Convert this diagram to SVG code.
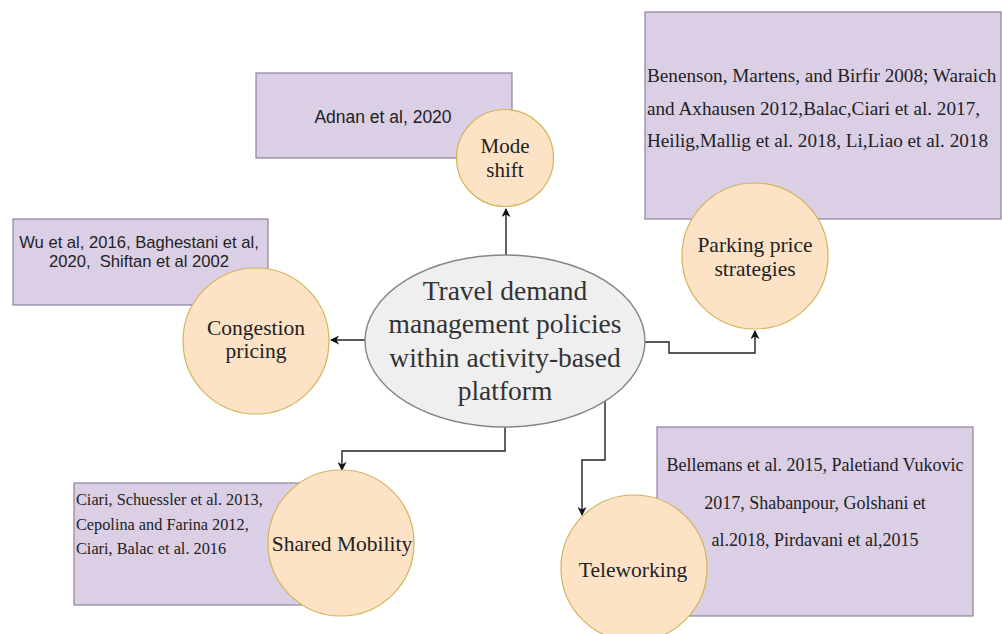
<svg xmlns="http://www.w3.org/2000/svg" width="1002" height="634" viewBox="0 0 1002 634">
<defs>
<style>
.box{fill:#dbcfe6;stroke:#8c829c;stroke-width:1.2}
.circ{fill:#fde2c6;stroke:#d2b45a;stroke-width:1.2}
.ell{fill:#efefef;stroke:#858585;stroke-width:1.4}
.sans{font-family:"Liberation Sans",Arial,sans-serif;fill:#222}
.serif{font-family:"Liberation Serif","Times New Roman",serif;fill:#222}
.conn{fill:none;stroke:#222;stroke-width:1.4}
</style>
<marker id="arr" viewBox="0 0 10 10" refX="9" refY="5" markerWidth="9" markerHeight="9" markerUnits="userSpaceOnUse" orient="auto">
<path d="M0,0 L10,5 L0,10 L3,5 Z" fill="#111"/>
</marker>
</defs>
<rect width="1002" height="634" fill="#fff"/>

<g id="connectors">
<path class="conn" d="M506,256 V209" marker-end="url(#arr)"/>
<path class="conn" d="M366,340 H331" marker-end="url(#arr)"/>
<path class="conn" d="M644,342 H669 V353 H755 V331" marker-end="url(#arr)"/>
<path class="conn" d="M505,427 V451 H342 V470" marker-end="url(#arr)"/>
<path class="conn" d="M605,401 V460 H582 V515" marker-end="url(#arr)"/>
</g>

<g id="center">
<ellipse class="ell" cx="505" cy="341" rx="140" ry="86"/>
<g class="serif" font-size="27.5" text-anchor="middle" style="fill:#333">
<text x="505" y="300">Travel demand</text>
<text x="505" y="333">management policies</text>
<text x="505" y="367">within activity-based</text>
<text x="505" y="400">platform</text>
</g>
</g>

<g id="mode-shift">
<rect class="box" x="256" y="73" width="256" height="85"/>
<text class="sans" x="383" y="123" font-size="17.5" text-anchor="middle">Adnan et al, 2020</text>
<circle class="circ" cx="505" cy="158" r="48.5"/>
<g class="serif" font-size="21" text-anchor="middle">
<text x="505" y="153">Mode</text>
<text x="505" y="177">shift</text>
</g>
</g>

<g id="parking">
<rect class="box" x="645" y="12" width="356" height="207"/>
<g class="serif" font-size="19.2">
<text x="647" y="82">Benenson, Martens, and Birfir 2008; Waraich</text>
<text x="647" y="115">and Axhausen 2012,Balac,Ciari et al. 2017,</text>
<text x="647" y="147">Heilig,Mallig et al. 2018, Li,Liao et al. 2018</text>
</g>
<circle class="circ" cx="755" cy="256" r="73"/>
<g class="serif" font-size="21.5" text-anchor="middle">
<text x="755" y="252">Parking price</text>
<text x="755" y="276">strategies</text>
</g>
</g>

<g id="congestion">
<rect class="box" x="13" y="219" width="255" height="86"/>
<g class="sans" font-size="16.6" text-anchor="middle">
<text x="139" y="248">Wu et al, 2016, Baghestani et al,</text>
<text x="139" y="267" xml:space="preserve">2020,  Shiftan et al 2002</text>
</g>
<circle class="circ" cx="256" cy="341" r="73"/>
<g class="serif" font-size="21.5" text-anchor="middle">
<text x="256" y="335">Congestion</text>
<text x="256" y="358">pricing</text>
</g>
</g>

<g id="shared">
<rect class="box" x="74" y="483" width="260" height="122"/>
<g class="serif" font-size="16.3">
<text x="76" y="505">Ciari, Schuessler et al. 2013,</text>
<text x="76" y="530">Cepolina and Farina 2012,</text>
<text x="76" y="554">Ciari, Balac et al. 2016</text>
</g>
<circle class="circ" cx="341" cy="543" r="73"/>
<text class="serif" x="342" y="551" font-size="21.5" text-anchor="middle">Shared Mobility</text>
</g>

<g id="teleworking">
<rect class="box" x="657" y="427" width="316" height="189"/>
<g class="serif" font-size="18" text-anchor="middle">
<text x="815" y="471">Bellemans et al. 2015, Paletiand Vukovic</text>
<text x="815" y="509">2017, Shabanpour, Golshani et</text>
<text x="815" y="546">al.2018, Pirdavani et al,2015</text>
</g>
<circle class="circ" cx="634" cy="568" r="73"/>
<text class="serif" x="633" y="577" font-size="21.5" text-anchor="middle">Teleworking</text>
</g>
</svg>
